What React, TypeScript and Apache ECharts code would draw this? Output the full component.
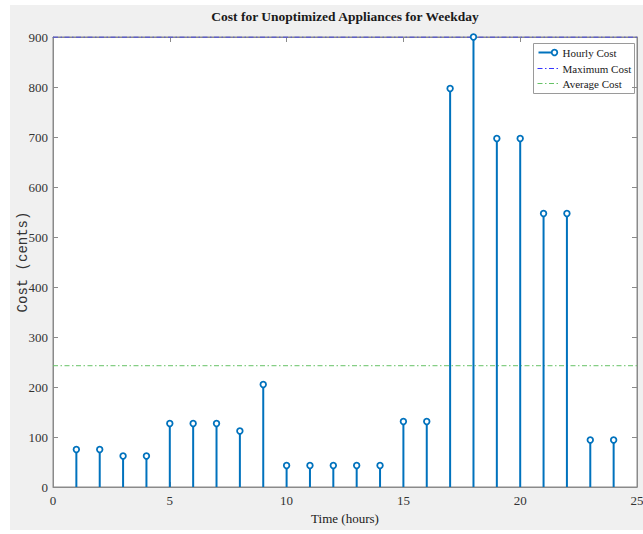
import React, { useEffect, useRef } from "react";
import * as echarts from "echarts";

// Hour of day (x) and the cost drawn at each hour (cents)
const hours = [1, 2, 3, 4, 5, 6, 7, 8, 9, 10, 11, 12, 13, 14, 15, 16, 17, 18, 19, 20, 21, 22, 23, 24];
const hourlyCost = [75, 75, 62, 62, 127, 127, 127, 112, 205, 43, 43, 43, 43, 43, 131, 131, 797, 900, 697, 697, 547, 547, 94, 94];

const titleText = "Cost for Unoptimized Appliances for Weekday";
const xName = "Time (hours)";
const yName = "Cost (cents)";
const legendNames = ["Hourly Cost", "Maximum Cost", "Average Cost"];

const X_MIN = 0;
const X_MAX = 25;
const X_STEP = 5;
const Y_MIN = 0;
const Y_MAX = 900;
const Y_STEP = 100;

const SERIF = "'Liberation Serif', 'Times New Roman', serif";
const STEM = "#0072BD";
const MAX_COLOR = "#3535ff";
const AVG_COLOR = "#66c266";
const AXIS = "#8a8a8a";
const DASH_DOT = [5, 2.5, 1.5, 2.5];

export default function App() {
  const ref = useRef<HTMLDivElement>(null);

  useEffect(() => {
    if (!ref.current) return;
    const chart = echarts.init(ref.current, undefined, { renderer: "svg" });

    const maxCost = Math.max(...hourlyCost);
    const avgCost = hourlyCost.reduce((a, b) => a + b, 0) / hourlyCost.length;

    const axisCommon = {
      type: "value" as const,
      axisLine: { show: true, onZero: false, lineStyle: { color: AXIS, width: 1 } },
      axisTick: { show: true, inside: true, length: 5, lineStyle: { color: AXIS } },
      splitLine: { show: false },
    };

    // Legend box drawn top-right inside the plot
    const lx = 533;
    const ly = 43;
    const rowY = [9, 25, 40];
    const legend = {
      type: "group",
      left: lx,
      top: ly,
      z: 20,
      children: [
        {
          type: "rect",
          shape: { x: 0, y: 0, width: 101, height: 50 },
          style: { fill: "#ffffff", stroke: "#9a9a9a", lineWidth: 1 },
        },
        {
          type: "line",
          shape: { x1: 5, y1: rowY[0], x2: 19, y2: rowY[0] },
          style: { stroke: STEM, lineWidth: 2 },
        },
        {
          type: "circle",
          shape: { cx: 21, cy: rowY[0], r: 2.8 },
          style: { fill: "#ffffff", stroke: STEM, lineWidth: 1.8 },
        },
        {
          type: "line",
          shape: { x1: 4, y1: rowY[1], x2: 27, y2: rowY[1] },
          style: { stroke: MAX_COLOR, lineWidth: 1, lineDash: DASH_DOT },
        },
        {
          type: "line",
          shape: { x1: 4, y1: rowY[2], x2: 27, y2: rowY[2] },
          style: { stroke: AVG_COLOR, lineWidth: 1, lineDash: DASH_DOT },
        },
        ...legendNames.map((name, i) => ({
          type: "text",
          style: {
            x: 29,
            y: rowY[i],
            text: name,
            fill: "#1a1a1a",
            font: `11px ${SERIF}`,
            verticalAlign: "middle",
          },
        })),
      ],
    };

    chart.setOption({
      animation: false,
      backgroundColor: "transparent",
      title: {
        text: titleText,
        left: 345,
        top: 9,
        textAlign: "center",
        padding: 0,
        textStyle: { fontFamily: SERIF, fontSize: 13.5, fontWeight: "bold", color: "#1a1a1a" },
      },
      grid: {
        left: 53,
        right: 6,
        top: 37,
        bottom: 47,
        outerBoundsMode: "none",
        containLabel: false,
        show: true,
        backgroundColor: "#ffffff",
        borderColor: AXIS,
        borderWidth: 1,
      },
      xAxis: [
        {
          ...axisCommon,
          position: "bottom",
          min: X_MIN,
          max: X_MAX,
          interval: X_STEP,
          axisLabel: { color: "#333", fontFamily: SERIF, fontSize: 13, margin: 7 },
          name: xName,
          nameLocation: "middle",
          nameGap: 25,
          nameMoveOverlap: false,
          nameTextStyle: { color: "#1a1a1a", fontFamily: SERIF, fontSize: 13 },
        },
        {
          ...axisCommon,
          position: "top",
          min: X_MIN,
          max: X_MAX,
          interval: X_STEP,
          axisLabel: { show: false },
        },
      ],
      yAxis: [
        {
          ...axisCommon,
          position: "left",
          min: Y_MIN,
          max: Y_MAX,
          interval: Y_STEP,
          axisLabel: { color: "#333", fontFamily: SERIF, fontSize: 13, margin: 5 },
          name: yName,
          nameLocation: "middle",
          nameGap: 23,
          nameMoveOverlap: false,
          nameTextStyle: { color: "#333", fontFamily: "'Liberation Mono', 'DejaVu Sans Mono', monospace", fontSize: 14 },
        },
        {
          ...axisCommon,
          position: "right",
          min: Y_MIN,
          max: Y_MAX,
          interval: Y_STEP,
          axisLabel: { show: false },
        },
      ],
      series: [
        {
          name: "Maximum Cost",
          type: "line",
          data: [
            [X_MIN, maxCost],
            [X_MAX, maxCost],
          ],
          symbol: "none",
          lineStyle: { color: MAX_COLOR, width: 1, type: DASH_DOT },
          z: 3,
        },
        {
          name: "Average Cost",
          type: "line",
          data: [
            [X_MIN, avgCost],
            [X_MAX, avgCost],
          ],
          symbol: "none",
          lineStyle: { color: AVG_COLOR, width: 1, type: DASH_DOT },
          z: 3,
        },
        {
          name: "Hourly Cost",
          type: "custom",
          z: 5,
          clip: false,
          data: hours.map((h, i) => [h, hourlyCost[i]]),
          encode: { x: 0, y: 1 },
          renderItem: (params: any, api: any) => {
            const x = api.value(0);
            const y = api.value(1);
            const top = api.coord([x, y]);
            const base = api.coord([x, 0]);
            return {
              type: "group",
              children: [
                {
                  type: "line",
                  shape: { x1: top[0], y1: base[1], x2: top[0], y2: top[1] },
                  style: { stroke: STEM, lineWidth: 2 },
                },
                {
                  type: "circle",
                  shape: { cx: top[0], cy: top[1], r: 2.8 },
                  style: { fill: "#ffffff", stroke: STEM, lineWidth: 1.8 },
                },
              ],
            };
          },
        },
      ],
      graphic: [legend],
    });

    return () => chart.dispose();
  }, []);

  return (
    <div style={{ position: "absolute", left: 0, top: 0, width: 643, height: 534, background: "#ffffff" }}>
      <div
        style={{ position: "absolute", left: 10, top: 5, width: 633, height: 525, background: "#f0f0f0" }}
      />
      <div ref={ref} style={{ position: "absolute", left: 0, top: 0, width: 643, height: 534 }} />
    </div>
  );
}
